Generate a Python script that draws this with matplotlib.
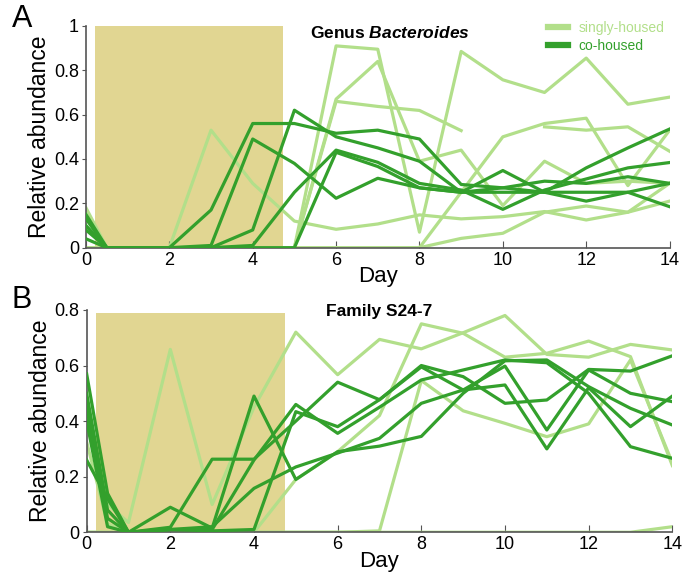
import numpy as np
import matplotlib
matplotlib.use("Agg")
import matplotlib.pyplot as plt
from matplotlib.ticker import FuncFormatter

plt.rcParams["font.family"] = ["Liberation Sans", "DejaVu Sans"]
plt.rcParams["mathtext.fontset"] = "custom"
plt.rcParams["mathtext.rm"] = "Liberation Sans"
plt.rcParams["mathtext.bf"] = "Liberation Sans:bold"
plt.rcParams["mathtext.it"] = "Liberation Sans:italic"
plt.rcParams["mathtext.bfit"] = "Liberation Sans:bold:italic"

# sampling days
days = [0, 0.5, 1, 2, 3, 4, 5, 6, 7, 8, 9, 10, 11, 12, 13, 14]
nan = np.nan

# panel A - Genus Bacteroides
a_single = [
    [0.18, 0, 0, 0, 0.53, 0.29, 0.12, 0.083, 0.107, 0.148, 0.13, 0.14, 0.163, 0.125, 0.16, 0.21],
    [0, 0, 0, 0, 0, 0, 0, 0.91, 0.895, 0.07, 0.885, 0.757, 0.70, 0.855, 0.647, 0.679],
    [0, 0, 0, 0, 0, 0, 0, 0.67, 0.84, 0.39, 0.44, 0.19, 0.39, 0.29, 0.30, 0.29],
    [0, 0, 0, 0, 0, 0, 0, 0.66, 0.637, 0.619, 0.528, nan, 0.545, 0.53, 0.545, 0.435],
    [0, 0, 0, 0, 0, 0, 0, 0, 0, 0, 0.25, 0.50, 0.56, 0.584, 0.28, 0.53],
    [0, 0, 0, 0, 0, 0, 0, 0, 0, 0, 0.042, 0.065, 0.16, 0.188, 0.16, 0.29],
]
a_cohoused = [
    [0.15, 0, 0, 0, 0.17, 0.56, 0.56, 0.516, 0.53, 0.49, 0.285, 0.27, 0.25, 0.36, 0.45, 0.535],
    [0.13, 0, 0, 0, 0.01, 0.49, 0.38, 0.223, 0.313, 0.27, 0.25, 0.348, 0.25, 0.21, 0.25, 0.185],
    [0.10, 0, 0, 0, 0, 0.08, 0.62, 0.50, 0.45, 0.39, 0.25, 0.27, 0.30, 0.29, 0.32, 0.29],
    [0.08, 0, 0, 0, 0, 0.01, 0.25, 0.44, 0.385, 0.29, 0.26, 0.173, 0.26, 0.31, 0.36, 0.384],
    [0.04, 0, 0, 0, 0, 0, 0, 0.43, 0.366, 0.27, 0.25, 0.25, 0.25, 0.25, 0.25, 0.29],
]

# panel B - Family S24-7
b_single = [
    [0.43, 0.10, 0.035, 0.658, 0.10, 0.45, 0.72, 0.567, 0.694, 0.66, 0.718, 0.78, 0.64, 0.63, 0.676, 0.656],
    [0.325, 0.03, 0, 0, 0, 0, 0.19, 0.29, 0.42, 0.75, 0.716, 0.63, 0.644, 0.688, 0.632, 0.24],
    [0, 0, 0, 0, 0, 0, 0, 0, 0.005, 0.546, 0.437, 0.392, 0.344, 0.39, 0.62, 0.25],
    [0, 0, 0, 0, 0, 0, 0, 0, 0, 0, 0, 0, 0, 0, 0, 0.02],
]
b_cohoused = [
    [0.57, 0.14, 0, 0.09, 0.015, 0.49, 0.19, 0.29, 0.31, 0.345, 0.50, 0.617, 0.62, 0.524, 0.446, 0.386],
    [0.50, 0.08, 0, 0.018, 0.263, 0.263, 0.40, 0.54, 0.477, 0.60, 0.56, 0.464, 0.476, 0.586, 0.58, 0.635],
    [0.45, 0.05, 0, 0.01, 0.005, 0.01, 0.434, 0.38, 0.477, 0.595, 0.512, 0.598, 0.368, 0.584, 0.50, 0.47],
    [0.40, 0.02, 0, 0.01, 0.02, 0.158, 0.235, 0.285, 0.338, 0.464, 0.512, 0.53, 0.30, 0.52, 0.38, 0.49],
    [0.26, 0.12, 0, 0.01, 0.01, 0.26, 0.46, 0.356, 0.45, 0.548, 0.584, 0.62, 0.61, 0.50, 0.308, 0.266],
]

light = "#b2df8a"
dark = "#33a02c"
shade = "#e1d692"
lw = 2.3


def draw_panel(ax, singles, cohoused, ymax, shade_top, yticks, title, title_xy):
    ax.fill_between([0.22, 4.73], 0, shade_top, color=shade, lw=0, zorder=0)
    for y in singles:
        ax.plot(days, y, color=light, lw=lw, zorder=2)
    for y in cohoused:
        ax.plot(days, y, color=dark, lw=lw, zorder=3)
    ax.set_xlim(0, 14)
    ax.set_ylim(0, ymax)
    ax.set_xticks(range(0, 15, 2))
    ax.set_yticks(yticks)
    ax.yaxis.set_major_formatter(FuncFormatter(lambda v, p: f"{v:g}"))
    for s in ["top", "right"]:
        ax.spines[s].set_visible(False)
    for s in ["left", "bottom"]:
        ax.spines[s].set_color("#555555")
        ax.spines[s].set_linewidth(1.2)
    ax.tick_params(axis="x", direction="in", length=5, color="#555555",
                   labelsize=13, pad=3)
    ax.tick_params(axis="y", direction="out", length=3, color="#555555",
                   labelsize=13, pad=2)
    ax.set_xlabel("Day", fontsize=16, labelpad=-2)
    ax.set_ylabel("Relative abundance", fontsize=16.5, labelpad=2)
    ax.text(title_xy[0], title_xy[1], title, transform=ax.transAxes,
            fontsize=12.5, fontweight="bold", ha="center", va="center")


fig = plt.figure(figsize=(6.85, 5.79), dpi=100)
axA = fig.add_axes([0.1255, 0.5722, 0.852, 0.383])
axB = fig.add_axes([0.1265, 0.0807, 0.855, 0.384])

draw_panel(axA, a_single, a_cohoused, 1.0, 1.0, [0, 0.2, 0.4, 0.6, 0.8, 1.0],
           r"Genus $\bfit{Bacteroides}$", (0.52, 0.97))
draw_panel(axB, b_single, b_cohoused, 0.8, 0.79, [0, 0.2, 0.4, 0.6, 0.8],
           "Family S24-7", (0.50, 0.995))

handles = [plt.Line2D([], [], color=light, lw=4.5), plt.Line2D([], [], color=dark, lw=4.5)]
fig.legend(handles, ["singly-housed", "co-housed"], loc="upper left",
           bbox_to_anchor=(0.782, 0.985), frameon=False, fontsize=10,
           labelcolor="linecolor", handlelength=1.45, handletextpad=0.75,
           labelspacing=0.3)

fig.text(0.017, 0.993, "A", fontsize=22, va="top")
fig.text(0.017, 0.507, "B", fontsize=22, va="top")

fig.savefig("out.png", dpi=100)
